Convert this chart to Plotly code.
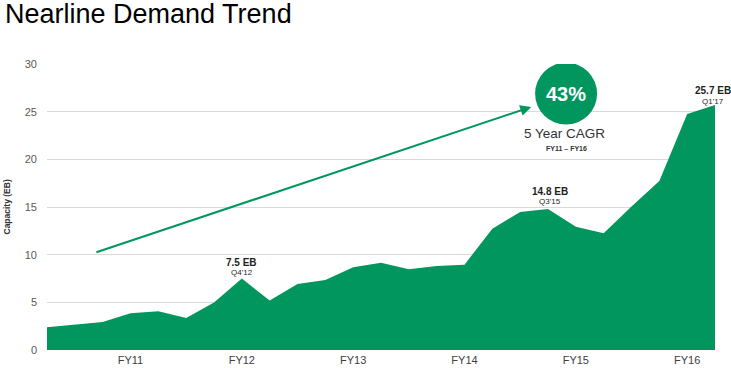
import plotly.graph_objects as go

quarters = ["Q1'11", "Q2'11", "Q3'11", "Q4'11", "Q1'12", "Q2'12", "Q3'12", "Q4'12",
            "Q1'13", "Q2'13", "Q3'13", "Q4'13", "Q1'14", "Q2'14", "Q3'14", "Q4'14",
            "Q1'15", "Q2'15", "Q3'15", "Q4'15", "Q1'16", "Q2'16", "Q3'16", "Q4'16", "Q1'17"]
capacity_eb = [2.38, 2.65, 2.94, 3.85, 4.06, 3.36, 4.97, 7.5, 5.18, 6.92, 7.35, 8.67, 9.16,
               8.46, 8.81, 8.95, 12.73, 14.48, 14.8, 12.94, 12.24, 15.04, 17.73, 24.76, 25.7]
fy_tick_quarters = ["Q4'11", "Q4'12", "Q4'13", "Q4'14", "Q4'15", "Q4'16"]
fy_tick_labels = ["FY11", "FY12", "FY13", "FY14", "FY15", "FY16"]
y_ticks = [0, 5, 10, 15, 20, 25, 30]

callouts = [("Q4'12", 7.5, "7.5 EB"), ("Q3'15", 14.8, "14.8 EB"), ("Q1'17", 25.7, "25.7 EB")]

GREEN = "#00965E"
FONT = "Liberation Sans, Arial, sans-serif"

fig = go.Figure()
fig.add_trace(go.Scatter(
    x=quarters, y=capacity_eb, mode="lines", fill="tozeroy",
    fillcolor=GREEN, line=dict(width=0, color=GREEN), hoverinfo="skip",
    showlegend=False,
))

annotations = []
shifts = {"Q4'12": (16, 6, 0), "Q3'15": (17, 7, 2), "Q1'17": (14, 3.5, -2)}
for q, v, txt in callouts:
    s1, s2, xs = shifts[q]
    annotations.append(dict(x=q, y=v, xref="x", yref="y", text="<b>" + txt + "</b>",
                            showarrow=False, yanchor="middle", yshift=s1, xshift=xs,
                            font=dict(size=10, color="#1f1f1f", family=FONT)))
    annotations.append(dict(x=q, y=v, xref="x", yref="y", text=q,
                            showarrow=False, yanchor="middle", yshift=s2, xshift=xs,
                            font=dict(size=8, color="#1f1f1f", family=FONT)))

# trend arrow
annotations.append(dict(x=17.4, y=25.5, ax=1.72, ay=10.2, xref="x", yref="y",
                        axref="x", ayref="y", text="", showarrow=True,
                        arrowhead=2, arrowsize=1.1, arrowwidth=2, arrowcolor=GREEN))

# CAGR bubble texts
annotations.append(dict(x=18.65, y=26.9, xref="x", yref="y", text="<b>43%</b>",
                        showarrow=False, font=dict(size=20, color="white", family=FONT)))
annotations.append(dict(x=18.65, y=26.9, xref="x", yref="y", text="5 Year CAGR",
                        showarrow=False, yshift=-40, xshift=-2,
                        font=dict(size=13.5, color="#333333", family=FONT)))
annotations.append(dict(x=18.65, y=26.9, xref="x", yref="y", text="<b>FY11 – FY16</b>",
                        showarrow=False, yshift=-55,
                        font=dict(size=7, color="#333333", family=FONT)))

# title and y axis title
annotations.append(dict(x=0, y=1, xref="paper", yref="paper", text="Nearline Demand Trend",
                        showarrow=False, xanchor="left", yanchor="top", xshift=-44, yshift=67,
                        font=dict(size=27, color="#000000", family=FONT)))
annotations.append(dict(x=0, y=0.5, xref="paper", yref="paper", text="<b>Capacity (EB)</b>",
                        showarrow=False, textangle=-90, xanchor="center", yanchor="middle",
                        xshift=-40.5, font=dict(size=8.5, color="#333333", family=FONT)))

shapes = [dict(type="circle", xref="x", yref="y", xsizemode="pixel", ysizemode="pixel",
               xanchor=18.65, yanchor=26.9, x0=-31, x1=31, y0=-31, y1=31,
               fillcolor=GREEN, line=dict(width=0))]

fig.update_layout(
    width=731, height=368,
    margin=dict(l=47, r=16, t=64, b=18),
    paper_bgcolor="white", plot_bgcolor="white",
    font=dict(family=FONT),
    annotations=annotations, shapes=shapes,
    xaxis=dict(range=[0, 24], tickmode="array", tickvals=fy_tick_quarters,
               ticktext=fy_tick_labels, showgrid=False, zeroline=False, showline=False,
               ticks="", automargin=False, ticklabelstandoff=2,
               tickfont=dict(size=11, color="#404040", family=FONT)),
    yaxis=dict(range=[0, 30], tickvals=y_ticks, showgrid=True, gridcolor="#d9d9d9",
               gridwidth=1, zeroline=False, showline=False, ticks="", automargin=False,
               ticklabelstandoff=9,
               tickfont=dict(size=11, color="#595959", family=FONT)),
)

fig.write_html("out.html", config={"displayModeBar": False},
               post_script="document.body.style.margin='0';document.body.style.overflow='hidden';")
